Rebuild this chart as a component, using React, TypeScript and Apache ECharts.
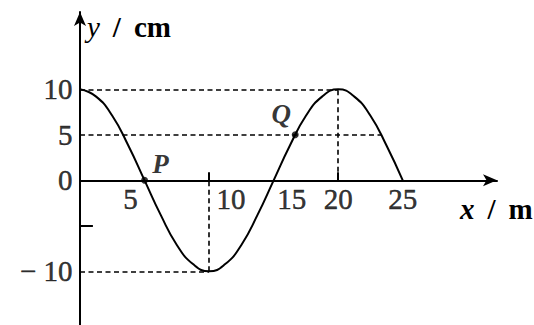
import React, { useEffect, useRef } from "react";
import * as echarts from "echarts";

// Wave y(x) (x in m, y in cm)
const waveX = [0, 1.25, 2.5, 3.75, 5, 6.25, 7.5, 8.75, 10, 11.25, 12.5, 13.75, 15, 16.25, 17.5, 18.75, 20, 21.25, 22.5, 23.75, 25];
const waveY = [10, 9.2, 7.1, 3.8, 0, -3.8, -7.1, -9.2, -10, -9.2, -7.1, -3.8, 0, 3.8, 7.1, 9.2, 10, 9.2, 7.1, 3.8, 0];

// Marked particles
const pointNames = ["P", "Q"];
const pointX = [5, 16.67];
const pointY = [0, 5];

// Tick labels
const xTickValues = [5, 10, 15, 20, 25];
const xTickLabels = ["5", "10", "15", "20", "25"];
const yTickValues = [10, 5, 0, -10];
const yTickLabels = ["10", "5", "0", "− 10"];

// Key values of the wave
const amplitude = 10;
const troughX = 10;
const crestX = 20;
const qLevel = 5;
const qLevelEndX = 23.33;
const minorTickY = -5;

// Axis ranges
const xMin = 0;
const xMax = 32.3;
const yMin = -15.9;
const yMax = 18.5;

// Styling (pixel offsets for labels)
const xLabelOffsets = [[-14, 19], [22, 19], [18, 19], [0, 19], [0, 19]];
const pointLabelOffsets = [[16, -16], [-14, -21]];

const FONT = "'Liberation Serif', 'DejaVu Serif', 'Times New Roman', serif";
const INK = "#000";

export default function App() {
  const ref = useRef<HTMLDivElement>(null);

  useEffect(() => {
    if (!ref.current) return;
    const chart = echarts.init(ref.current, null, { renderer: "svg" });

    const dashed = { color: INK, width: 1.6, type: [5, 3.5] as any };
    const solid = { color: INK, width: 2, type: "solid" as any };

    const guideData: any[] = [
      [{ coord: [0, amplitude], lineStyle: dashed }, { coord: [crestX, amplitude] }],
      [{ coord: [0, qLevel], lineStyle: dashed }, { coord: [qLevelEndX, qLevel] }],
      [{ coord: [0, -amplitude], lineStyle: dashed }, { coord: [troughX, -amplitude] }],
      [{ coord: [troughX, -amplitude], lineStyle: dashed }, { coord: [troughX, 0] }],
      [{ coord: [crestX, 0], lineStyle: dashed }, { coord: [crestX, amplitude] }],
      // small solid ticks
      [{ coord: [troughX, 0], lineStyle: solid }, { coord: [troughX, 0.9] }],
      [{ coord: [crestX, 0], lineStyle: solid }, { coord: [crestX, 0.9] }],
      [{ coord: [0, minorTickY], lineStyle: solid }, { coord: [1, minorTickY] }],
    ];

    const textStyle = {
      color: INK,
      fontFamily: FONT,
      fontSize: 29,
      textBorderColor: INK,
      textBorderWidth: 0.5,
    };

    chart.setOption({
      animation: false,
      backgroundColor: "#fff",
      grid: { left: 80, right: 37, top: 12, bottom: 0, containLabel: false },
      xAxis: {
        type: "value",
        min: xMin,
        max: xMax,
        axisLine: {
          show: true,
          onZero: true,
          symbol: ["none", "arrow"],
          symbolSize: [9, 14],
          lineStyle: { color: INK, width: 2 },
        },
        axisTick: { show: false },
        axisLabel: { show: false },
        splitLine: { show: false },
      },
      yAxis: {
        type: "value",
        min: yMin,
        max: yMax,
        axisLine: {
          show: true,
          onZero: false,
          symbol: ["none", "arrow"],
          symbolSize: [9, 14],
          lineStyle: { color: INK, width: 2 },
        },
        axisTick: { show: false },
        axisLabel: { show: false },
        splitLine: { show: false },
      },
      series: [
        {
          type: "line",
          data: waveX.map((x, i) => [x, waveY[i]]),
          smooth: 0.5,
          showSymbol: false,
          lineStyle: { color: INK, width: 2 },
          z: 3,
          markLine: {
            silent: true,
            symbol: ["none", "none"],
            label: { show: false },
            data: guideData,
          },
        },
        {
          type: "scatter",
          data: pointNames.map((n, i) => ({
            value: [pointX[i], pointY[i]],
            name: n,
            label: { offset: pointLabelOffsets[i] },
          })),
          symbolSize: 7,
          itemStyle: { color: INK },
          z: 5,
          label: {
            show: true,
            position: "inside",
            formatter: (p: any) => p.name,
            ...textStyle,
            fontStyle: "italic",
            fontWeight: "bold",
            fontSize: 27,
            textBorderWidth: 0,
          },
        },
        {
          type: "scatter",
          data: xTickValues.map((v, i) => ({
            value: [v, 0],
            name: xTickLabels[i],
            label: { offset: xLabelOffsets[i] },
          })),
          symbolSize: 1,
          itemStyle: { color: "transparent" },
          silent: true,
          label: {
            show: true,
            position: "inside",
            formatter: (p: any) => p.name,
            ...textStyle,
          },
        },
        {
          type: "scatter",
          data: yTickValues.map((v, i) => ({ value: [0, v], name: yTickLabels[i] })),
          symbolSize: 1,
          itemStyle: { color: "transparent" },
          silent: true,
          label: {
            show: true,
            position: "left",
            distance: 7,
            formatter: (p: any) => p.name,
            ...textStyle,
          },
        },
      ],
      graphic: [
        {
          type: "text",
          left: 87,
          top: 12,
          style: {
            text: "{i|y} {n|/} {n|cm}",
            fill: INK,
            font: `28px ${FONT}`,
            rich: {
              i: { fontFamily: FONT, fontStyle: "italic", fontSize: 29, fill: INK, padding: [0, 3, 0, 0] },
              n: { fontFamily: FONT, fontSize: 29, fill: INK, fontWeight: "bold", padding: [0, 3, 0, 3] },
            },
          },
        },
        {
          type: "text",
          left: 460,
          top: 194,
          style: {
            text: "{i|x} {n|/} {n|m}",
            fill: INK,
            font: `28px ${FONT}`,
            rich: {
              i: { fontFamily: FONT, fontStyle: "italic", fontWeight: "bold", fontSize: 29, fill: INK, padding: [0, 3, 0, 0] },
              n: { fontFamily: FONT, fontSize: 29, fill: INK, fontWeight: "bold", padding: [0, 3, 0, 3] },
            },
          },
        },
      ],
    });

    return () => chart.dispose();
  }, []);

  return (
    <div
      ref={ref}
      style={{ position: "fixed", left: 0, top: 0, width: 534, height: 325, background: "#fff" }}
    />
  );
}
